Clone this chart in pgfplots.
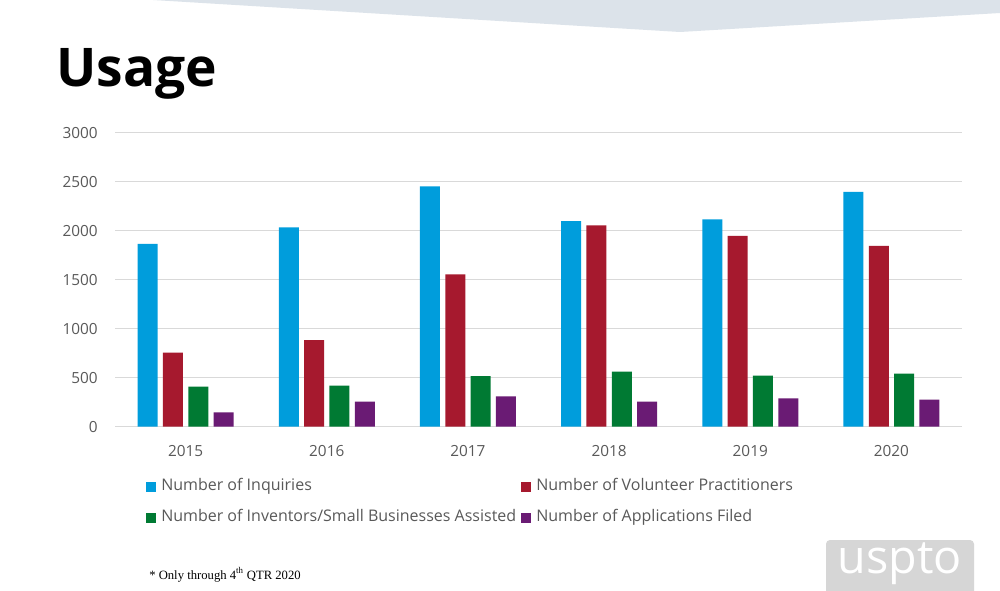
\documentclass[border=0pt]{standalone}
\usepackage{fontspec}
\setmainfont{Open Sans}
\newfontfamily\tnr{Liberation Serif}
\usepackage{pgfplots}
\pgfplotsset{compat=1.18}

\definecolor{cblue}{HTML}{009DDC}
\definecolor{cred}{HTML}{A6192E}
\definecolor{cgreen}{HTML}{007A33}
\definecolor{cpurple}{HTML}{6A1B74}
\definecolor{band}{HTML}{DCE3EA}
\definecolor{txt}{HTML}{595959}
\definecolor{gridc}{HTML}{D9D9D9}
\definecolor{logo}{HTML}{D6D6D6}

\begin{document}
\begin{tikzpicture}
% slide decoration, in pixels (y downwards)
\begin{scope}[x=0.75pt, y=-0.75pt]
  \path[use as bounding box, fill=white] (0,0) rectangle (1000,591);
  \fill[band] (153,0) -- (680,32) -- (1000,13) -- (1000,0) -- cycle;
  \node[anchor=base west, inner sep=0pt, font=\fontsize{40}{44}\selectfont\bfseries]
    at (56,87) {Usage};
  \node[anchor=base west, inner sep=0pt, font=\tnr\fontsize{9.5}{11}\selectfont]
    at (149,579) {* Only through 4\textsuperscript{th} QTR 2020};
  \fill[logo, rounded corners=3] (826,540) rectangle (974,596);
  \node[anchor=base, inner sep=0pt, text=white, font=\fontsize{35}{38}\selectfont]
    at (900,573) {uspto};
  \coordinate (axorig) at (115,426.7);
\end{scope}

\begin{axis}[
  at={(axorig)}, anchor=south west,
  scale only axis, width=635.25pt, height=220.5pt,
  ybar=4pt, bar width=15pt,
  xmin=-0.5, xmax=5.5, ymin=0, ymax=3000,
  xtick=data, xticklabels={2015,2016,2017,2018,2019,2020},
  ytick={0,500,...,3000},
  major tick length=0pt,
  ymajorgrids, grid style={gridc, line width=1pt},
  axis lines*=left,
  x axis line style={gridc, line width=1pt},
  y axis line style={draw=none},
  /pgf/number format/assume math mode=true,
  /pgf/number format/set thousands separator={},
  tick label style={font=\fontsize{11.5}{13}\selectfont, text=txt},
  yticklabel style={inner sep=0pt, xshift=-12.75pt},
  xticklabel style={inner sep=0pt, yshift=-14pt},
  legend image code/.code={\fill[#1] (0pt,-3.75pt) rectangle (7.5pt,3.75pt);},
  legend columns=2,
  legend cell align=left,
  legend style={at={(0.0366,-0.1745)}, anchor=north west, draw=none, fill=none,
    inner sep=0pt, row sep=10pt,
    font=\fontsize{12}{14}\selectfont, text=txt,
    nodes={inner xsep=3.75pt, inner ysep=1pt, text height=8.5pt, text depth=2.5pt}},
]
\addplot[fill=cblue, draw=none] coordinates {(0,1865) (1,2035) (2,2452) (3,2099) (4,2116) (5,2395)};
\addplot[fill=cred, draw=none] coordinates {(0,755) (1,884) (2,1554) (3,2054) (4,1946) (5,1844)};
\addplot[fill=cgreen, draw=none] coordinates {(0,408) (1,418) (2,517) (3,561) (4,520) (5,541)};
\addplot[fill=cpurple, draw=none] coordinates {(0,146) (1,255) (2,310) (3,255) (4,289) (5,276)};
\legend{\makebox[266.25pt][l]{Number of Inquiries}, Number of Volunteer Practitioners,
  \makebox[266.25pt][l]{Number of Inventors/Small Businesses Assisted}, Number of Applications Filed}
\end{axis}
\end{tikzpicture}
\end{document}
